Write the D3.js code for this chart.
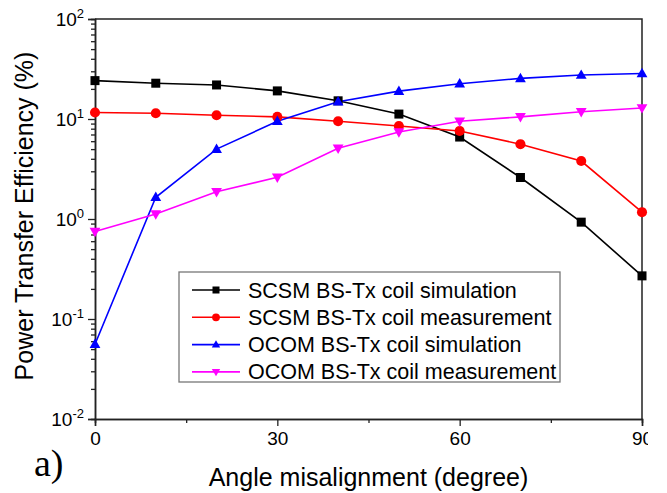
<!DOCTYPE html>
<html>
<head>
<meta charset="utf-8">
<script src="https://cdn.jsdelivr.net/npm/d3@7"></script>
<style>
    body { margin: 0; background: #fff; }
    svg { display: block; overflow: hidden; }
    text { font-family: "Liberation Sans", Arial, sans-serif; fill: #000; }
</style>
</head>
<body>
<div class="content"></div>
<script>
(function () {
    'use strict';
    var angles = [0, 10, 20, 30, 40, 50, 60, 70, 80, 90],
        scsmSim = [24.2, 22.8, 21.9, 19.1, 15.2, 11.2, 6.6, 2.6, 0.93, 0.27],
        scsmMeas = [11.6, 11.4, 10.9, 10.5, 9.5, 8.5, 7.6, 5.6, 3.8, 1.17],
        ocomSim = [0.056, 1.65, 5.0, 9.5, 14.9, 19.0, 22.5, 25.5, 27.5, 28.5],
        ocomMeas = [0.75, 1.12, 1.87, 2.61, 5.1, 7.4, 9.5, 10.5, 11.8, 12.9],
        seriesNames = ["SCSM BS-Tx coil simulation", "SCSM BS-Tx coil measurement",
            "OCOM BS-Tx coil simulation", "OCOM BS-Tx coil measurement"],
        xTicks = [0, 30, 60, 90],
        xMinor = [15, 45, 75],
        yExponents = [-2, -1, 0, 1, 2];

    var opts = {
        width: 648, height: 493,
        left: 95, right: 642, top: 19, bottom: 419,
        colors: ["#000000", "#ff0000", "#0000ff", "#ff00ff"],
        symbols: ["square", "circle", "up", "down"]
    };

    var series = [scsmSim, scsmMeas, ocomSim, ocomMeas];

    var svg = d3.select(".content").append("svg")
        .attr("width", opts.width)
        .attr("height", opts.height);

    var x = d3.scaleLinear().domain([0, 90]).range([opts.left, opts.right]);
    var y = d3.scaleLog().domain([0.01, 100]).range([opts.bottom, opts.top]);

    // frame (top and right lines)
    svg.append("path")
        .attr("d", "M" + opts.left + "," + opts.top + "H" + opts.right + "V" + opts.bottom)
        .attr("fill", "none")
        .attr("stroke", "#222")
        .attr("stroke-width", 1.5);

    // y axis
    var minor = [];
    yExponents.slice(0, -1).forEach(function (e) {
        for (var k = 2; k <= 9; k += 1) {
            minor.push(k * Math.pow(10, e));
        }
    });
    var yAxisMinor = svg.append("g")
        .attr("transform", "translate(" + opts.left + ",0)")
        .call(d3.axisLeft(y).tickValues(minor).tickSize(4).tickFormat(""));
    var yAxis = svg.append("g")
        .attr("transform", "translate(" + opts.left + ",0)")
        .call(d3.axisLeft(y).tickValues(yExponents.map(function (e) { return Math.pow(10, e); }))
            .tickSize(7).tickFormat(""));
    [yAxisMinor, yAxis].forEach(function (g) {
        g.select(".domain").attr("stroke", "#222").attr("stroke-width", 1.5);
        g.selectAll(".tick line").attr("stroke", "#222").attr("stroke-width", 1.3);
    });

    var yLab = svg.append("g").selectAll("text").data(yExponents).enter().append("text")
        .attr("x", 84)
        .attr("y", function (d) { return y(Math.pow(10, d)) + 7; })
        .attr("text-anchor", "end")
        .attr("font-size", "19px");
    yLab.append("tspan").text("10");
    yLab.append("tspan")
        .attr("dy", -8)
        .attr("font-size", "13px")
        .text(function (d) { return d; });

    // x axis
    var xAxisMinor = svg.append("g")
        .attr("transform", "translate(0," + opts.bottom + ")")
        .call(d3.axisBottom(x).tickValues(xMinor).tickSize(4).tickFormat(""));
    var xAxis = svg.append("g")
        .attr("transform", "translate(0," + opts.bottom + ")")
        .call(d3.axisBottom(x).tickValues(xTicks).tickSize(7).tickPadding(6));
    [xAxisMinor, xAxis].forEach(function (g) {
        g.select(".domain").attr("stroke", "#222").attr("stroke-width", 1.5);
        g.selectAll(".tick line").attr("stroke", "#222").attr("stroke-width", 1.3);
    });
    xAxis.selectAll(".tick text")
        .attr("font-family", "Liberation Sans, Arial, sans-serif")
        .attr("font-size", "19px")
        .attr("fill", "#000");

    // axis titles
    svg.append("text")
        .attr("x", (opts.left + opts.right) / 2)
        .attr("y", 486)
        .attr("text-anchor", "middle")
        .attr("font-size", "25px")
        .text("Angle misalignment (degree)");
    svg.append("text")
        .attr("transform", "translate(33,216) rotate(-90)")
        .attr("text-anchor", "middle")
        .attr("font-size", "25px")
        .text("Power Transfer Efficiency (%)");

    svg.append("text")
        .attr("x", 34)
        .attr("y", 476)
        .attr("font-family", "Liberation Serif, Times New Roman, serif")
        .style("font-family", "'Liberation Serif', 'Times New Roman', serif")
        .attr("font-size", "38px")
        .text("a)");

    function drawMarker(g, type, color, s) {
        if (type === "square") {
            g.append("rect").attr("x", -s / 2).attr("y", -s / 2)
                .attr("width", s).attr("height", s).attr("fill", color);
        } else if (type === "circle") {
            g.append("circle").attr("r", s * 0.56).attr("fill", color);
        } else {
            var w = s * 1.2, h = s * 1.05, dir = type === "up" ? 1 : -1;
            g.append("path")
                .attr("d", "M0," + (-dir * h * 0.6) + "L" + (w / 2) + "," + (dir * h * 0.4) +
                    "L" + (-w / 2) + "," + (dir * h * 0.4) + "Z")
                .attr("fill", color);
        }
    }

    var line = d3.line()
        .x(function (d, i) { return x(angles[i]); })
        .y(function (d) { return y(d); });

    series.forEach(function (vals, si) {
        svg.append("path")
            .datum(vals)
            .attr("d", line)
            .attr("fill", "none")
            .attr("stroke", opts.colors[si])
            .attr("stroke-width", 1.6);
    });
    series.forEach(function (vals, si) {
        vals.forEach(function (v, i) {
            var g = svg.append("g")
                .attr("transform", "translate(" + x(angles[i]) + "," + y(v) + ")");
            drawMarker(g, opts.symbols[si], opts.colors[si], 9);
        });
    });

    // legend
    var legend = svg.append("g");
    legend.append("rect")
        .attr("x", 179).attr("y", 272)
        .attr("width", 381).attr("height", 110)
        .attr("fill", "#fff")
        .attr("stroke", "#777")
        .attr("stroke-width", 1.3);
    seriesNames.forEach(function (name, i) {
        var ly = 290 + i * 27.3;
        legend.append("line")
            .attr("x1", 192).attr("x2", 240)
            .attr("y1", ly).attr("y2", ly)
            .attr("stroke", opts.colors[i])
            .attr("stroke-width", 1.6);
        var g = legend.append("g").attr("transform", "translate(216," + ly + ")");
        drawMarker(g, opts.symbols[i], opts.colors[i], 7);
        legend.append("text")
            .attr("x", 248)
            .attr("y", ly + 7.5)
            .attr("font-size", "21.5px")
            .text(name);
    });
}());
</script>
</body>
</html>
